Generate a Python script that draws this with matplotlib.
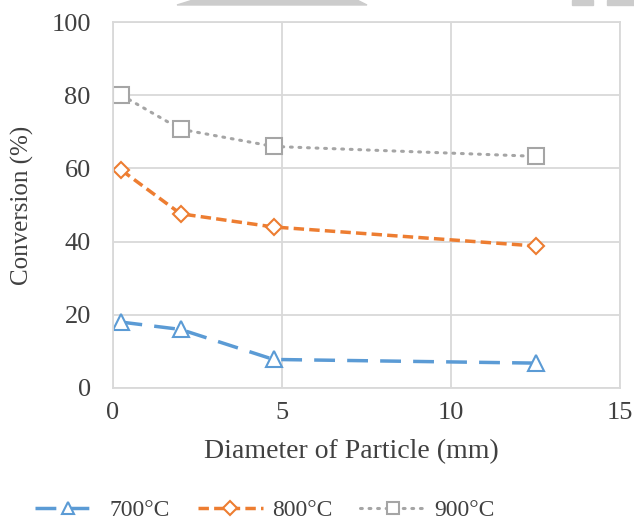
import matplotlib
matplotlib.use("Agg")
import matplotlib.pyplot as plt
from matplotlib.patches import Polygon

diameter = [0.25, 2.0, 4.75, 12.5]
conv_700 = [18.0, 16.0, 7.8, 6.8]
conv_800 = [59.5, 47.6, 44.0, 38.8]
conv_900 = [80.0, 70.7, 66.0, 63.3]
labels = ["700°C", "800°C", "900°C"]

plt.rcParams['font.family'] = ['Liberation Serif', 'DejaVu Serif']
txt = '#404040'

W, H = 634, 521
fig = plt.figure(figsize=(W / 100, H / 100), dpi=100)
ax = fig.add_axes([113 / W, 1 - 388 / H, (620 - 113) / W, (388 - 22) / H])

def px(pts):
    return [[x / W, 1 - y / H] for x, y in pts]

for poly in ([(177, 5), (193, 0), (357, 0), (367, 5)],
             [(572, 0), (593, 0), (593, 5), (572, 5)],
             [(607, 0), (634, 0), (634, 5), (607, 5)]):
    fig.patches.append(Polygon(px(poly), closed=True, transform=fig.transFigure,
                               color='#cccccc', zorder=0))

ax.plot(diameter, conv_700, color='#5b9bd5', lw=2.5, dashes=(6, 3.5), marker='^',
        ms=11, mfc='white', mec='#5b9bd5', mew=1.5, label=labels[0])
ax.plot(diameter, conv_800, color='#ed7d31', lw=2.5, dashes=(3, 1.5), marker='D',
        ms=8, mfc='white', mec='#ed7d31', mew=1.5, label=labels[1])
ax.plot(diameter, conv_900, color='#a5a5a5', lw=2.2, dashes=(0.6, 2.2), marker='s',
        ms=11, mfc='white', mec='#a5a5a5', mew=1.5, label=labels[2], dash_capstyle='round')

ax.set_xlim(0, 15)
ax.set_ylim(0, 100)
ax.set_xticks([0, 5, 10, 15])
ax.set_yticks([0, 20, 40, 60, 80, 100])
ax.grid(True, color='#d9d9d9', lw=1.3)
ax.set_axisbelow(True)
for s in ax.spines.values():
    s.set_color('#d9d9d9')
    s.set_linewidth(1.3)
ax.tick_params(axis='x', length=0, labelsize=19, colors=txt, pad=10)
ax.tick_params(axis='y', length=0, labelsize=19, colors=txt, pad=16)
ax.set_xlabel("Diameter of Particle (mm)", fontsize=20, color=txt)
ax.xaxis.set_label_coords(0.47, -0.14)
ax.set_ylabel("Conversion (%)", fontsize=18, color=txt)
ax.yaxis.set_label_coords(-0.155, 0.5)

fig.legend(loc='center', bbox_to_anchor=(265 / W, 1 - 510 / H), ncol=3, frameon=False,
           fontsize=17, labelcolor=txt, handlelength=2.75, columnspacing=1.2,
           handletextpad=0.38, borderpad=0, borderaxespad=0, markerscale=0.85)

fig.savefig("out.png", dpi=100)
